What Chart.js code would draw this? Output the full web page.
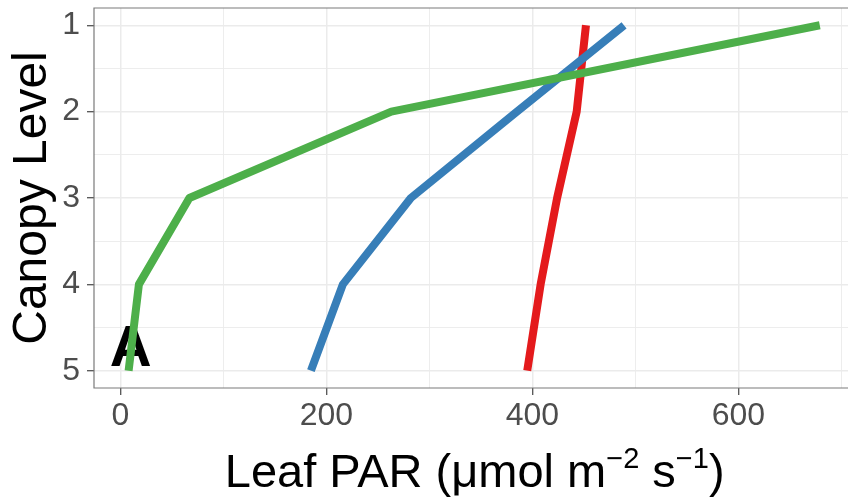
<!DOCTYPE html>
<html><head><meta charset="utf-8">
<script src="https://cdn.jsdelivr.net/npm/chart.js@4"></script>
<style>
html,body{margin:0;padding:0;overflow:hidden;background:#fff}
#wrap{width:848px;height:501px;position:relative}
</style></head>
<body><div id="wrap"><canvas id="c" width="848" height="501"></canvas></div>
<script>
// ---- data ----
const canopyLevels = [1, 2, 3, 4, 5];
const redPAR   = [452, 443, 424, 408, 395];
const bluePAR  = [489, 385, 282, 216, 185];
const greenPAR = [679, 263, 67, 18, 8];
const xTickValues = [0, 100, 200, 300, 400, 500, 600, 700];
const xTickLabels = ['0', '', '200', '', '400', '', '600', ''];
const yTickValues = [1, 1.5, 2, 2.5, 3, 3.5, 4, 4.5, 5];
const yTickLabels = ['1', '', '2', '', '3', '', '4', '', '5'];
const xTitleParts = [['Leaf PAR (μmol m', false], ['−2', true], [' s', false], ['−1', true], [')', false]];
const yTitle = 'Canopy Level';
const panelLabel = 'A';
const panelLabelPos = {x: 10, y: 4.94};

const FONT = '"Liberation Sans", Arial, Helvetica, sans-serif';
const toPoints = arr => arr.map((v, i) => ({x: v, y: canopyLevels[i]}));
const isMajor = (vals, labels, v) => labels[vals.indexOf(v)] !== '';

const panelPlugin = {
  id: 'panel',
  beforeDatasetsDraw(chart) {
    const {ctx, scales: {x, y}} = chart;
    ctx.save();
    ctx.font = 'bold 58px ' + FONT;
    ctx.fillStyle = '#000';
    ctx.textAlign = 'center';
    ctx.textBaseline = 'alphabetic';
    ctx.fillText(panelLabel, x.getPixelForValue(panelLabelPos.x), y.getPixelForValue(panelLabelPos.y));
    ctx.restore();
  },
  afterDatasetsDraw(chart) {
    // panel border (the right side lies beyond the visible picture)
    const {ctx, chartArea: a} = chart;
    ctx.save();
    ctx.strokeStyle = '#7a7a7a';
    ctx.lineWidth = 1.2;
    ctx.beginPath();
    ctx.moveTo(a.right + 2, a.top);
    ctx.lineTo(a.left, a.top);
    ctx.lineTo(a.left, a.bottom);
    ctx.lineTo(a.right + 2, a.bottom);
    ctx.stroke();
    ctx.restore();
  },
  afterDraw(chart) {
    const {ctx, scales: {x}} = chart;
    const mainSize = 47, supSize = 29, raise = 19, baseY = 487;
    ctx.save();
    ctx.fillStyle = '#000';
    ctx.textBaseline = 'alphabetic';
    ctx.textAlign = 'left';
    let total = 0;
    for (const [t, sup] of xTitleParts) {
      ctx.font = (sup ? supSize : mainSize) + 'px ' + FONT;
      total += ctx.measureText(t).width;
    }
    // centre on the full (uncropped) panel
    const centre = (x.getPixelForValue(-25.6) + x.getPixelForValue(713.6)) / 2;
    let cx = centre - total / 2;
    for (const [t, sup] of xTitleParts) {
      ctx.font = (sup ? supSize : mainSize) + 'px ' + FONT;
      ctx.fillText(t, cx, sup ? baseY - raise : baseY);
      cx += ctx.measureText(t).width;
    }
    ctx.restore();
  }
};

new Chart(document.getElementById('c'), {
  type: 'line',
  data: {
    datasets: [
      {label: 'red', data: toPoints(redPAR), borderColor: '#E41A1C', order: 3},
      {label: 'blue', data: toPoints(bluePAR), borderColor: '#377EB8', order: 2},
      {label: 'green', data: toPoints(greenPAR), borderColor: '#4DAF4A', order: 1}
    ].map(d => Object.assign(d, {borderWidth: 8, pointRadius: 0, fill: false, tension: 0,
      borderCapStyle: 'butt', borderJoinStyle: 'round'}))
  },
  options: {
    responsive: false,
    animation: false,
    layout: {padding: {top: 8, left: 0, right: 0, bottom: 0}},
    plugins: {legend: {display: false}, tooltip: {enabled: false}},
    scales: {
      x: {
        type: 'linear', min: -25.6, max: 706.4,
        afterBuildTicks: s => { s.ticks = xTickValues.map(v => ({value: v})); },
        afterFit: s => { s.height = 113; s.paddingLeft = 0; s.paddingRight = 0; },
        ticks: {
          autoSkip: false, maxRotation: 0, padding: 2,
          color: '#4d4d4d', font: {family: FONT, size: 32},
          callback: v => xTickLabels[xTickValues.indexOf(v)] ?? ''
        },
        grid: {
          color: '#ebebeb',
          lineWidth: c => isMajor(xTickValues, xTickLabels, c.tick.value) ? 1.5 : 0.9,
          tickColor: c => isMajor(xTickValues, xTickLabels, c.tick.value) ? '#333' : 'rgba(0,0,0,0)',
          tickLength: 7, tickWidth: 1.1
        },
        border: {display: false}
      },
      y: {
        type: 'linear', min: 0.8, max: 5.2, reverse: true,
        afterBuildTicks: s => { s.ticks = yTickValues.map(v => ({value: v})); },
        afterFit: s => { s.width = 94; s.paddingTop = 0; s.paddingBottom = 0; },
        ticks: {
          autoSkip: false, padding: 7,
          color: '#4d4d4d', font: {family: FONT, size: 32},
          callback: v => yTickLabels[yTickValues.indexOf(v)] ?? ''
        },
        grid: {
          color: '#ebebeb',
          lineWidth: c => isMajor(yTickValues, yTickLabels, c.tick.value) ? 1.5 : 0.9,
          tickColor: c => isMajor(yTickValues, yTickLabels, c.tick.value) ? '#333' : 'rgba(0,0,0,0)',
          tickLength: 7, tickWidth: 1.1
        },
        border: {display: false},
        title: {display: true, text: yTitle, color: '#000', font: {family: FONT, size: 48, lineHeight: 1}, padding: {top: 9, bottom: 0}}
      }
    }
  },
  plugins: [panelPlugin]
});
</script>
</body></html>
